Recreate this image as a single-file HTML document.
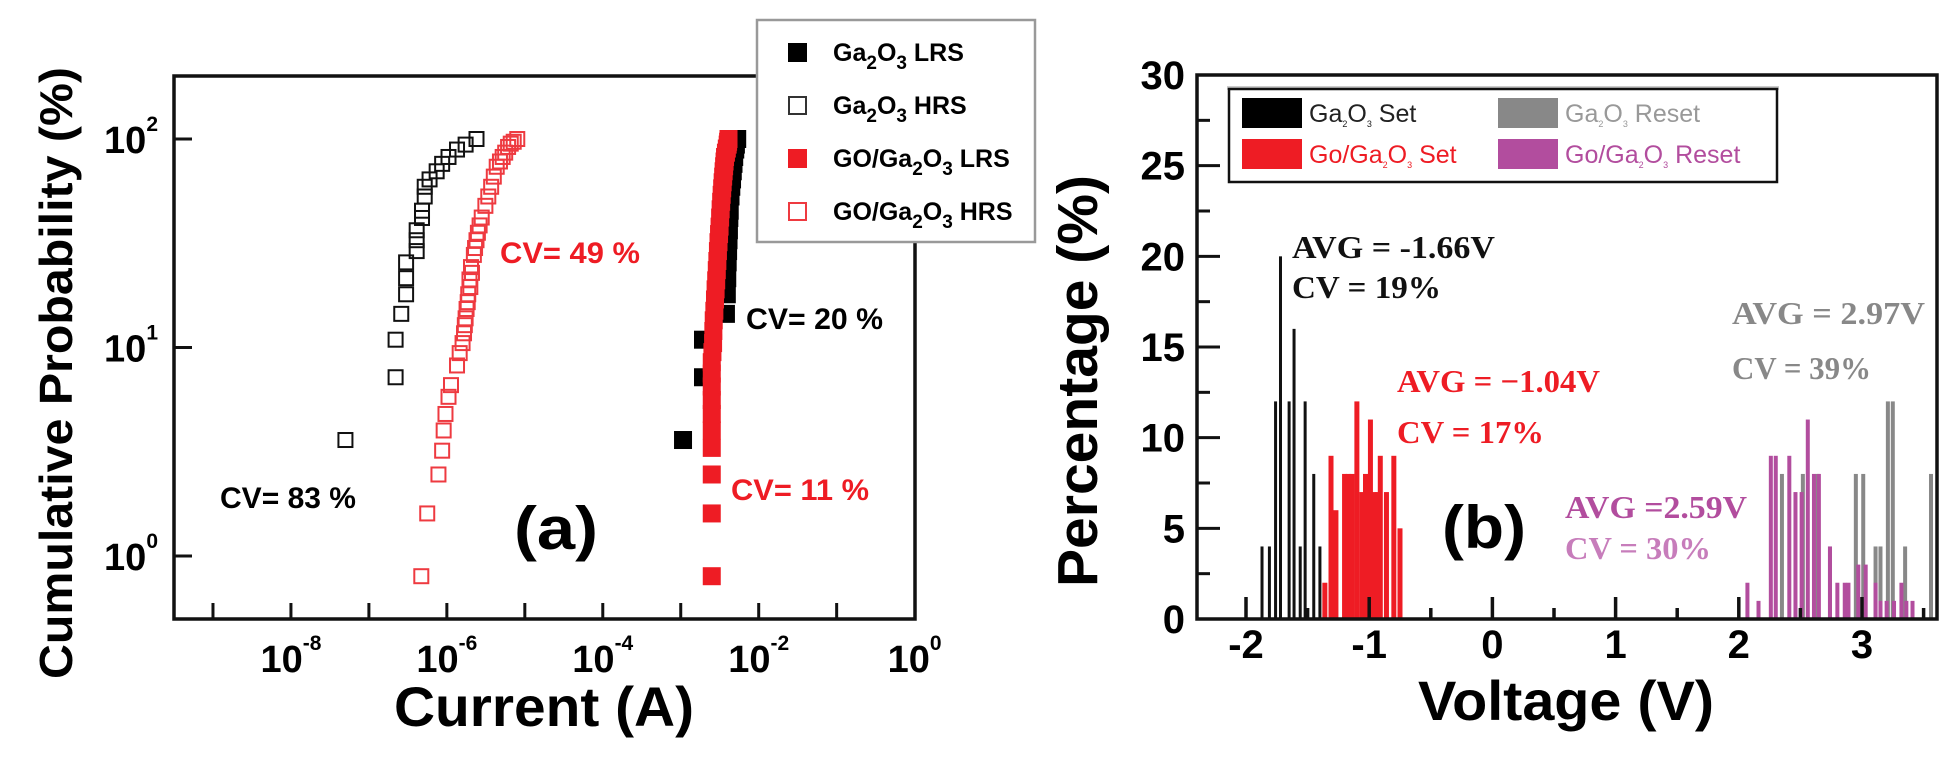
<!DOCTYPE html>
<html><head><meta charset="utf-8"><title>Ga2O3 switching statistics</title>
<style>
html,body{margin:0;padding:0;background:#fff;}
svg{display:block;}
text{font-family:"Liberation Sans",Arial,sans-serif;}
.serif{font-family:"Liberation Serif","Times New Roman",serif;font-weight:bold;}
</style></head>
<body>
<svg id="fig" width="1959" height="768" viewBox="0 0 1959 768" xmlns="http://www.w3.org/2000/svg">
  <rect x="0" y="0" width="1959" height="768" fill="#fff"/>
  <g id="panelA"></g>
  <g id="panelB"></g>

  <text x="72" y="373" transform="rotate(-90 72 373)" text-anchor="middle" font-size="46" font-weight="bold" textLength="612" lengthAdjust="spacingAndGlyphs">Cumulative Probability (%)</text>
  <text x="544" y="726" text-anchor="middle" font-size="56" font-weight="bold" textLength="300" lengthAdjust="spacingAndGlyphs">Current (A)</text>
  <text x="500" y="263" font-size="30" font-weight="bold" fill="#ee1c24" textLength="140" lengthAdjust="spacingAndGlyphs">CV= 49 %</text>
  <text x="746" y="329" font-size="30" font-weight="bold" fill="#000" textLength="137" lengthAdjust="spacingAndGlyphs">CV= 20 %</text>
  <text x="220" y="508" font-size="30" font-weight="bold" fill="#000" textLength="136" lengthAdjust="spacingAndGlyphs">CV= 83 %</text>
  <text x="731" y="500" font-size="30" font-weight="bold" fill="#ee1c24" textLength="138" lengthAdjust="spacingAndGlyphs">CV= 11 %</text>
  <text x="556" y="549" text-anchor="middle" font-size="60" font-weight="bold" textLength="84" lengthAdjust="spacingAndGlyphs">(a)</text>

  <text x="1097" y="381" transform="rotate(-90 1097 381)" text-anchor="middle" font-size="57" font-weight="bold" textLength="412" lengthAdjust="spacingAndGlyphs">Percentage (%)</text>
  <text x="1566" y="720" text-anchor="middle" font-size="56" font-weight="bold" textLength="296" lengthAdjust="spacingAndGlyphs">Voltage (V)</text>
  <text x="1484" y="548" text-anchor="middle" font-size="60" font-weight="bold" textLength="84" lengthAdjust="spacingAndGlyphs">(b)</text>
  <text class="serif" x="1292" y="258" font-size="32" fill="#111" textLength="203" lengthAdjust="spacingAndGlyphs">AVG = -1.66V</text>
  <text class="serif" x="1292" y="298" font-size="32" fill="#111" textLength="149" lengthAdjust="spacingAndGlyphs">CV = 19%</text>
  <text class="serif" x="1397" y="392" font-size="32" fill="#ee1c24" textLength="203" lengthAdjust="spacingAndGlyphs">AVG = −1.04V</text>
  <text class="serif" x="1397" y="443" font-size="32" fill="#ee1c24" textLength="147" lengthAdjust="spacingAndGlyphs">CV = 17%</text>
  <text class="serif" x="1732" y="324" font-size="32" fill="#888" textLength="193" lengthAdjust="spacingAndGlyphs">AVG = 2.97V</text>
  <text class="serif" x="1732" y="379" font-size="32" fill="#888" textLength="139" lengthAdjust="spacingAndGlyphs">CV = 39%</text>
  <text class="serif" x="1565" y="518" font-size="32" fill="#b24d9e" textLength="182" lengthAdjust="spacingAndGlyphs">AVG =2.59V</text>
  <text class="serif" x="1565" y="559" font-size="32" fill="#c77dbb" textLength="146" lengthAdjust="spacingAndGlyphs">CV = 30%</text>
</svg>

<script>
// ---------- Panel A data ----------
const hrsGaI = [5e-8,2.2e-7,2.2e-7,2.6e-7,3.0e-7,3.0e-7,3.0e-7,4.1e-7,4.1e-7,4.1e-7,4.8e-7,4.8e-7,5.2e-7,5.2e-7,6.0e-7,7.4e-7,8.7e-7,1.05e-6,1.35e-6,1.74e-6,2.4e-6];
const hrsGaP = [3.6,7.2,10.9,14.5,18,21.5,25.6,29,32.7,36.5,41.8,45.3,53,59,64,70,76,82,89,94,100];
const lrsGaI = [1.07e-3,1.93e-3,1.93e-3,3.8e-3,3.9e-3,3.95e-3,4.0e-3,4.05e-3,4.1e-3,4.15e-3,4.2e-3,4.25e-3,4.35e-3,4.45e-3,4.55e-3,4.65e-3,4.75e-3,4.85e-3,5.0e-3,5.1e-3,5.3e-3];
const lrsGaP = [3.6,7.2,10.9,14.5,18,21.5,25.6,29,32.7,36.5,41.8,45.3,53,59,64,70,76,82,89,94,100];
const hrsGoI = [4.7e-7,5.6e-7,7.8e-7,8.7e-7,9.1e-7,9.6e-7,1.05e-6,1.13e-6,1.35e-6,1.46e-6,1.59e-6,1.66e-6,1.7e-6,1.74e-6,1.79e-6,1.85e-6,1.88e-6,2.0e-6,1.95e-6,2.1e-6,2.04e-6,2.22e-6,2.3e-6,2.4e-6,2.5e-6,2.63e-6,2.8e-6,3.12e-6,3.4e-6,3.7e-6,4.0e-6,4.36e-6,4.8e-6,5.2e-6,5.6e-6,6.1e-6,6.6e-6,7.2e-6,8.0e-6];
const hrsGoP = [0.8,1.6,2.46,3.2,4.0,4.8,5.8,6.6,8.2,9.4,10.5,11.7,12.8,13.8,15.3,16.5,18,19.5,21.2,22.8,24.3,27.8,30,32.7,35.5,38.5,42,47.8,53,59,66,73.6,78,82,86,91.6,95,97,100];
const lrsGoI = [2.5e-3,2.5e-3,2.5e-3,2.5e-3,2.5e-3,2.5e-3,2.5e-3,2.5e-3,2.5e-3,2.5e-3,2.55e-3,2.6e-3,2.62e-3,2.65e-3,2.7e-3,2.75e-3,2.8e-3,2.85e-3,2.9e-3,2.95e-3,3.0e-3,3.05e-3,3.1e-3,3.15e-3,3.2e-3,3.25e-3,3.3e-3,3.35e-3,3.4e-3,3.45e-3,3.5e-3,3.55e-3,3.6e-3,3.65e-3,3.7e-3,3.8e-3,3.9e-3,4.0e-3,4.05e-3,4.1e-3];
const lrsGoP = [0.8,1.6,2.46,3.3,4,4.8,5.6,6.5,7.5,8.5,9.5,10.5,12,13.5,15,17,19,21,23.5,26,29,32,35,38,42,46,50,54,58,62,66,70,74,78,82,86,90,94,97,100];
const xDecadesA = [-9,-8,-7,-6,-5,-4,-3,-2,-1];
const xLabelExpA = ["-8","-6","-4","-2","0"];
const yLabelExpA = ["0","1","2"];

// ---------- Panel B data ----------
const setGaV = [-1.87,-1.81,-1.76,-1.72,-1.65,-1.61,-1.56,-1.52,-1.45,-1.40];
const setGaH = [4,4,12,20,12,16,4,12,8,4];
const setGoV = [-1.36,-1.31,-1.27,-1.20,-1.17,-1.14,-1.10,-1.06,-1.03,-0.99,-0.96,-0.93,-0.91,-0.86,-0.80,-0.75];
const setGoH = [2,9,6,8,8,8,12,7,8,11,7,7,9,7,9,5];
const resetGaV = [2.35,2.52,2.64,2.74,2.95,3.01,3.11,3.15,3.21,3.25,3.35,3.56];
const resetGaH = [8,8,8,4,8,8,4,4,12,12,4,8];
const resetGoV = [2.07,2.16,2.26,2.30,2.41,2.46,2.51,2.56,2.61,2.65,2.74,2.80,2.86,2.89,2.97,3.03,3.11,3.15,3.20,3.26,3.32,3.36,3.41];
const resetGoH = [2,1,9,9,9,7,7,11,8,8,4,2,2,2,3,3,2,1,1,1,2,1,1];
const xTicksB = [-2,-1.5,-1,-0.5,0,0.5,1,1.5,2,2.5,3,3.5];
const xLabelsB = ["-2","-1","0","1","2","3"];
const yTicksB = [0,2.5,5,7.5,10,12.5,15,17.5,20,22.5,25,27.5,30];
const yLabelsB = ["0","5","10","15","20","25","30"];

const NS = "http://www.w3.org/2000/svg";
function mk(tag, attrs, parent){
  const e = document.createElementNS(NS, tag);
  for (const k in attrs) e.setAttribute(k, attrs[k]);
  parent.appendChild(e);
  return e;
}

// ---------- Panel A ----------
const A = document.getElementById('panelA');
const AL=174, AR=915, AT=76, AB=619;
function xA(I){ return AL + (Math.log10(I) + 9.5) * 77.96; }
function yA(P){ return 139 + (2 - Math.log10(P)) * 208.5; }

function drawSeriesA(Is, Ps, fill, stroke, name, s){
  const g = mk('g', {}, A);
  
  
  for (let i=0;i<Is.length;i++){
    const r = mk('rect', {x:xA(Is[i])-s/2, y:yA(Ps[i])-s/2, width:s, height:s, fill:fill, stroke:stroke, 'stroke-width':2}, g);
    
    
  }
}
drawSeriesA(hrsGaI, hrsGaP, 'none', '#111', 'series-ga2o3-hrs', 14);
drawSeriesA(hrsGoI, hrsGoP, 'none', '#ee3a40', 'series-go-ga2o3-hrs', 14);
drawSeriesA(lrsGaI, lrsGaP, '#000', '#000', 'series-ga2o3-lrs', 16);
drawSeriesA(lrsGoI, lrsGoP, '#ee1c24', '#ee1c24', 'series-go-ga2o3-lrs', 16);

const frameA = mk('rect', {x:AL, y:AT, width:AR-AL, height:AB-AT, fill:'none', stroke:'#111', 'stroke-width':3.5}, A);



xDecadesA.forEach(function(d){
  const x = xA(Math.pow(10,d));
  const t = mk('line', {x1:x, x2:x, y1:AB, y2:AB-16, stroke:'#111', 'stroke-width':3}, A);
  
  
});
xLabelExpA.forEach(function(ex){
  const x = xA(Math.pow(10, parseFloat(ex)));
  const t = mk('text', {x:x, y:672, 'text-anchor':'middle', 'font-size':38, 'font-weight':'bold'}, A);
  
  
  t.appendChild(document.createTextNode('10'));
  const s = mk('tspan', {dy:-22, 'font-size':21}, t);
  s.textContent = ex;
});
yLabelExpA.forEach(function(ex){
  const y = yA(Math.pow(10, parseFloat(ex)));
  const t = mk('line', {x1:AL, x2:AL+18, y1:y, y2:y, stroke:'#111', 'stroke-width':3}, A);
  
  
  const l = mk('text', {x:158, y:y+14, 'text-anchor':'end', 'font-size':38, 'font-weight':'bold'}, A);
  
  
  l.appendChild(document.createTextNode('10'));
  const s = mk('tspan', {dy:-22, 'font-size':21}, l);
  s.textContent = ex;
});

// legend A
const legA = mk('g', {}, A);


const legABox = mk('rect', {x:757, y:20, width:278, height:222, fill:'#fff', stroke:'#999', 'stroke-width':2.5}, legA);


const legAItems = [
  {pre:'Ga', post:' LRS', fill:'#000', stroke:'#000', name:'legend-entry-ga2o3-lrs'},
  {pre:'Ga', post:' HRS', fill:'none', stroke:'#333', name:'legend-entry-ga2o3-hrs'},
  {pre:'GO/Ga', post:' LRS', fill:'#ee1c24', stroke:'#ee1c24', name:'legend-entry-go-ga2o3-lrs'},
  {pre:'GO/Ga', post:' HRS', fill:'none', stroke:'#ee3a40', name:'legend-entry-go-ga2o3-hrs'}
];
legAItems.forEach(function(it, i){
  const y = 52 + i*53;
  const g = mk('g', {}, legA);
  
  
  mk('rect', {x:789, y:y-8, width:17, height:17, fill:it.fill, stroke:it.stroke, 'stroke-width':2}, g);
  const t = mk('text', {x:833, y:y+9, 'font-size':25, 'font-weight':'bold'}, g);
  t.appendChild(document.createTextNode(it.pre));
  const s1 = mk('tspan', {dy:8, 'font-size':19}, t); s1.textContent='2';
  const s2 = mk('tspan', {dy:-8}, t); s2.textContent='O';
  const s3 = mk('tspan', {dy:8, 'font-size':19}, t); s3.textContent='3';
  const s4 = mk('tspan', {dy:-8}, t); s4.textContent=it.post;
});

// ---------- Panel B ----------
const B = document.getElementById('panelB');
const BL=1197, BR=1937, BT=75, BB=619;
function xB(v){ return 1246 + (v + 2) * 123.2; }
function yB(p){ return BB - p * 18.133; }

function drawBars(Vs, Hs, color, w, name){
  const g = mk('g', {}, B);
  
  
  for (let i=0;i<Vs.length;i++){
    const r = mk('rect', {x:xB(Vs[i])-w/2, y:yB(Hs[i]), width:w, height:BB-yB(Hs[i]), fill:color}, g);
    
    
  }
}
drawBars(resetGaV, resetGaH, '#888888', 4, 'bars-ga2o3-reset');
drawBars(resetGoV, resetGoH, '#b24d9e', 4, 'bars-go-ga2o3-reset');
drawBars(setGaV, setGaH, '#111111', 3, 'bars-ga2o3-set');
drawBars(setGoV, setGoH, '#ee1c24', 5, 'bars-go-ga2o3-set');

const frameB = mk('rect', {x:BL, y:BT, width:BR-BL, height:BB-BT, fill:'none', stroke:'#111', 'stroke-width':3.5}, B);



xTicksB.forEach(function(v){
  const x = xB(v);
  const len = (Math.abs(v - Math.round(v)) < 1e-6) ? 22 : 11;
  const t = mk('line', {x1:x, x2:x, y1:BB, y2:BB-len, stroke:'#111', 'stroke-width':3.5}, B);
  
  
});
xLabelsB.forEach(function(lbl){
  const t = mk('text', {x:xB(parseFloat(lbl)), y:658, 'text-anchor':'middle', 'font-size':40, 'font-weight':'bold'}, B);
  
  
  t.textContent = lbl;
});
yTicksB.forEach(function(p){
  const y = yB(p);
  const len = (p % 5 === 0) ? 23 : 13;
  const t = mk('line', {x1:BL, x2:BL+len, y1:y, y2:y, stroke:'#111', 'stroke-width':3}, B);
  
  
});
yLabelsB.forEach(function(lbl){
  const t = mk('text', {x:1185, y:yB(parseFloat(lbl))+14, 'text-anchor':'end', 'font-size':40, 'font-weight':'bold'}, B);
  
  
  t.textContent = lbl;
});

// legend B
const legB = mk('g', {}, B);


const shadowB = mk('rect', {x:1227, y:86, width:552, height:4, fill:'#ccc'}, legB);


const legBBox = mk('rect', {x:1229, y:89, width:548, height:93, fill:'#fff', stroke:'#111', 'stroke-width':2.5}, legB);


const legBItems = [
  {x:1242, y:98, pre:'Ga', post:' Set', col:'#000', tcol:'#222', name:'legend-entry-ga2o3-set'},
  {x:1498, y:98, pre:'Ga', post:' Reset', col:'#888', tcol:'#999', name:'legend-entry-ga2o3-reset'},
  {x:1242, y:139, pre:'Go/Ga', post:' Set', col:'#ee1c24', tcol:'#ee1c24', name:'legend-entry-go-ga2o3-set'},
  {x:1498, y:139, pre:'Go/Ga', post:' Reset', col:'#b24d9e', tcol:'#b24d9e', name:'legend-entry-go-ga2o3-reset'}
];
legBItems.forEach(function(it){
  const g = mk('g', {}, legB);
  
  
  mk('rect', {x:it.x, y:it.y, width:60, height:30, fill:it.col}, g);
  const t = mk('text', {x:it.x+67, y:it.y+24, 'font-size':25, fill:it.tcol}, g);
  t.appendChild(document.createTextNode(it.pre));
  const s1 = mk('tspan', {dy:5, 'font-size':9}, t); s1.textContent='2';
  const s2 = mk('tspan', {dy:-5}, t); s2.textContent='O';
  const s3 = mk('tspan', {dy:5, 'font-size':9}, t); s3.textContent='3';
  const s4 = mk('tspan', {dy:-5}, t); s4.textContent=it.post;
});
</script>
</body></html>
